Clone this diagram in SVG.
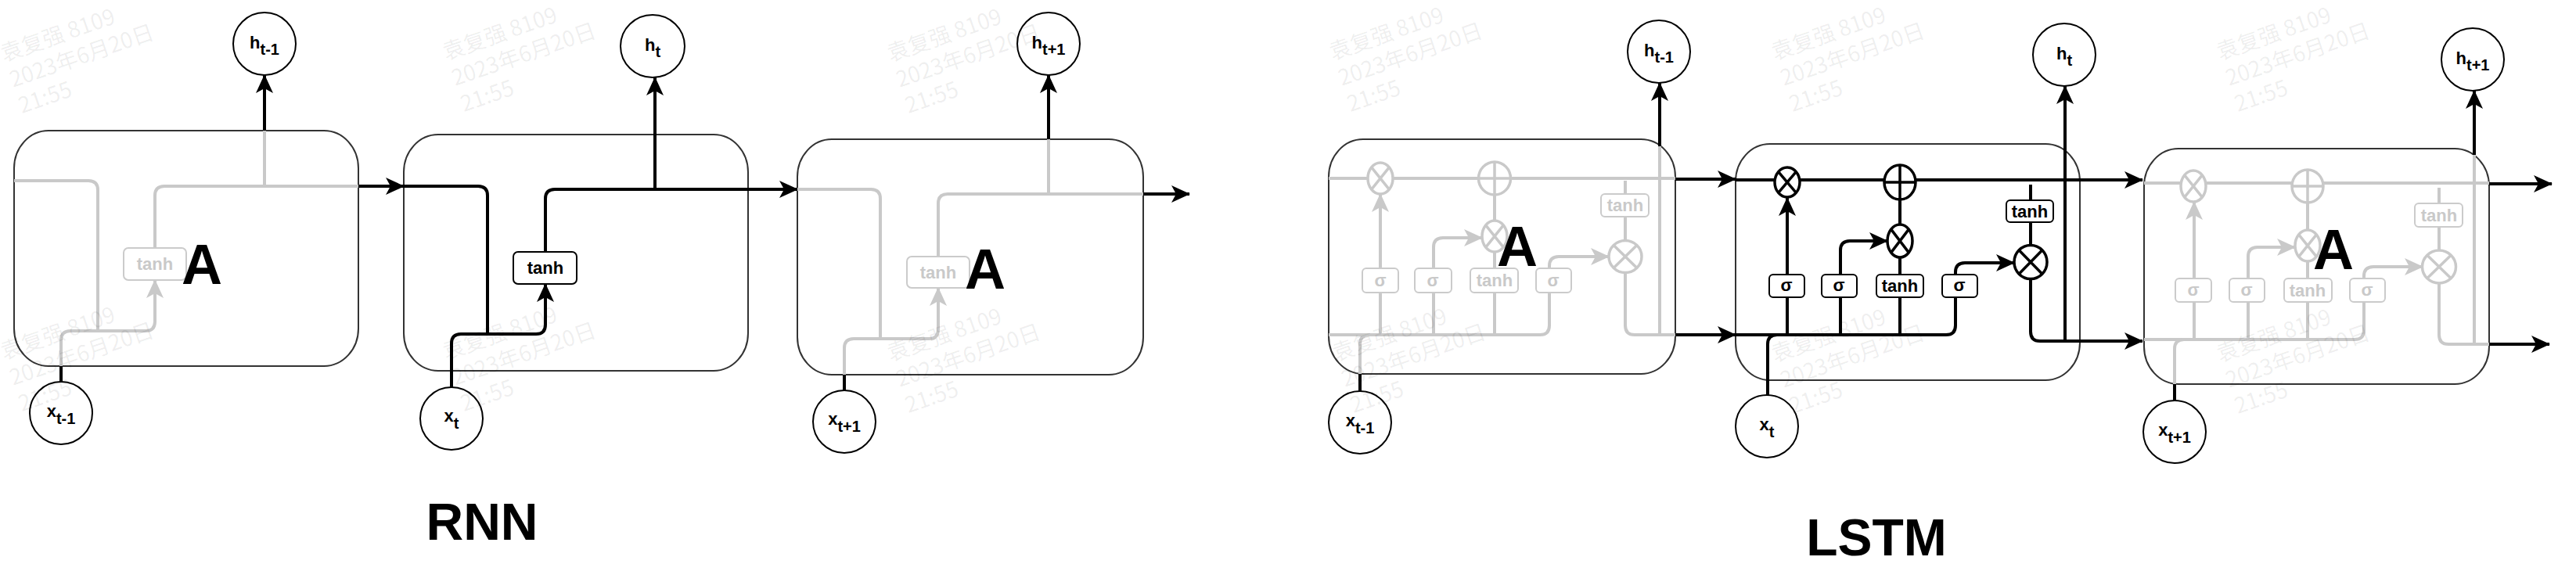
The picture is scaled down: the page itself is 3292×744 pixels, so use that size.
<svg xmlns="http://www.w3.org/2000/svg" xmlns:xlink="http://www.w3.org/1999/xlink" width="3292" height="744" viewBox="0 0 3292 744">
<style>
.cell{fill:#fff;stroke:#333;stroke-width:2}
.k{fill:none;stroke:#000;stroke-width:4}
.g{fill:none;stroke:#c9c9c9;stroke-width:4}
.ka{marker-end:url(#ab)}
.ga{marker-end:url(#ag)}
.box{fill:#fff;stroke:#000;stroke-width:2}
.gbox{fill:#fff;stroke:#cbcbcb;stroke-width:2}
.bt{font-family:"Liberation Sans",Arial,sans-serif;font-weight:bold;font-size:22px;text-anchor:middle;fill:#000}
.gt{font-family:"Liberation Sans",Arial,sans-serif;font-weight:bold;font-size:22px;text-anchor:middle;fill:#c9c9c9}
.node{fill:#fff;stroke:#000;stroke-width:2}
.lbl{font-family:"Liberation Sans",Arial,sans-serif;font-weight:bold;font-size:22px;text-anchor:middle;fill:#000}
.big{font-family:"Liberation Sans",Arial,sans-serif;font-weight:bold;font-size:72px;text-anchor:middle;fill:#000}
.title{font-family:"Liberation Sans",Arial,sans-serif;font-weight:bold;font-size:66px;text-anchor:middle;fill:#000}
.wm{font-family:"Noto Sans CJK SC","Liberation Sans",sans-serif;font-size:28px;fill:#000;fill-opacity:0.075}
</style>
<defs>
<marker id="ab" viewBox="0 0 24 24" markerWidth="24" markerHeight="24" markerUnits="userSpaceOnUse" refX="23" refY="12" orient="auto"><path d="M0,1 L24,12 L0,23 L6,12 Z" fill="#000"/></marker>
<marker id="ag" viewBox="0 0 24 24" markerWidth="24" markerHeight="24" markerUnits="userSpaceOnUse" refX="23" refY="12" orient="auto"><path d="M0,1 L24,12 L0,23 L6,12 Z" fill="#c9c9c9"/></marker>
<g id="mul"><circle r="1" fill="#fff" vector-effect="non-scaling-stroke"/><path d="M-0.707,-0.707L0.707,0.707M-0.707,0.707L0.707,-0.707" fill="none" vector-effect="non-scaling-stroke"/></g>
<g id="add"><circle r="1" fill="#fff" vector-effect="non-scaling-stroke"/><path d="M0,-1V1M-1,0H1" fill="none" vector-effect="non-scaling-stroke"/></g>
</defs>
<rect width="3292" height="744" fill="#fff"/>

<!-- cells -->
<g id="rnn-cell-1"><rect class="cell" x="18" y="167" width="440" height="301" rx="44" ry="48"/></g>
<g id="rnn-cell-2"><rect class="cell" x="516" y="172" width="440" height="302" rx="44" ry="48"/></g>
<g id="rnn-cell-3"><rect class="cell" x="1019" y="178" width="442" height="301" rx="44" ry="48"/></g>
<g id="lstm-cell-1"><rect class="cell" x="1698" y="178" width="443" height="300" rx="44" ry="48"/></g>
<g id="lstm-cell-2"><rect class="cell" x="2218" y="184" width="440" height="302" rx="44" ry="48"/></g>
<g id="lstm-cell-3"><rect class="cell" x="2740" y="190" width="441" height="301" rx="44" ry="48"/></g>

<!-- connectors -->
<g id="connectors">
<!-- RNN cell 1 -->
<path class="g" d="M18,231 H113 Q125,231 125,243 V423"/>
<path class="k" d="M78,488 V468"/>
<path class="g ga" d="M78,468 V435 Q78,423 90,423 H186 Q198,423 198,411 V358"/>
<path class="g" d="M198,317 V250 Q198,238 210,238 H458"/>
<path class="g" d="M338,238 V167"/>
<path class="k ka" d="M338,167 V96"/>
<path class="k ka" d="M458,238 H516"/>
<!-- RNN cell 2 -->
<path class="k" d="M516,238 H611 Q623,238 623,250 V427"/>
<path class="k ka" d="M577,495 V439 Q577,427 589,427 H685 Q697,427 697,415 V363"/>
<path class="k ka" d="M697,322 V254 Q697,242 709,242 H1019"/>
<path class="k ka" d="M837,242 V99"/>
<!-- RNN cell 3 -->
<path class="g" d="M1019,242 H1113 Q1125,242 1125,254 V433"/>
<path class="k" d="M1079,499 V479"/>
<path class="g ga" d="M1079,479 V445 Q1079,433 1091,433 H1187 Q1199,433 1199,421 V368"/>
<path class="g" d="M1199,328 V260 Q1199,248 1211,248 H1461"/>
<path class="k ka" d="M1461,248 H1520"/>
<path class="g" d="M1340,248 V178"/>
<path class="k ka" d="M1340,178 V96"/>

<!-- LSTM cell 1 -->
<path class="g" d="M1698,228 H2141"/>
<path class="k ka" d="M2141,229 H2218"/>
<path class="g" d="M1698,428 H1968 Q1980,428 1980,416 V374"/>
<path class="g ga" d="M1980,343 V340 Q1980,328 1992,328 H2056"/>
<path class="g" d="M1764,428 V374"/>
<path class="g ga" d="M1764,343 V248"/>
<path class="g" d="M1832,428 V374"/>
<path class="g ga" d="M1832,343 V316 Q1832,304 1844,304 H1894"/>
<path class="g" d="M1910,428 V374 M1910,343 V322 M1910,282 V249"/>
<path class="g" d="M2077,231 V248 M2077,277 V308"/>
<path class="g" d="M2077,349 V416 Q2077,428 2089,428 H2141"/>
<path class="k ka" d="M2141,428 H2218"/>
<path class="g" d="M2121,428 V187"/>
<path class="k ka" d="M2121,187 V106"/>
<path class="k" d="M1738,500 V478"/>
<path class="g" d="M1738,478 V440 Q1738,428 1750,428"/>
<!-- LSTM cell 2 -->
<path class="k ka" d="M2218,230 H2738"/>
<path class="k" d="M2218,428 H2487 Q2499,428 2499,416 V380"/>
<path class="k ka" d="M2499,351 V348 Q2499,336 2511,336 H2574"/>
<path class="k" d="M2284,428 V380"/>
<path class="k ka" d="M2284,351 V253"/>
<path class="k" d="M2352,428 V380"/>
<path class="k ka" d="M2352,351 V320 Q2352,308 2364,308 H2412"/>
<path class="k" d="M2428,428 V380 M2428,351 V329 M2428,287 V253"/>
<path class="k" d="M2595,236 V256 M2595,284 V314"/>
<path class="k ka" d="M2595,357 V424 Q2595,436 2607,436 H2738"/>
<path class="k ka" d="M2639,436 V110"/>
<path class="k" d="M2259,505 V440 Q2259,428 2271,428"/>
<!-- LSTM cell 3 -->
<path class="g" d="M2740,234 H3181"/>
<path class="k ka" d="M3181,235 H3261"/>
<path class="g" d="M2740,434 H3009 Q3021,434 3021,422 V386"/>
<path class="g ga" d="M3021,356 V353 Q3021,341 3033,341 H3096"/>
<path class="g" d="M2804,434 V386"/>
<path class="g ga" d="M2804,356 V258"/>
<path class="g" d="M2873,434 V386"/>
<path class="g ga" d="M2873,356 V328 Q2873,316 2885,316 H2933"/>
<path class="g" d="M2949,434 V386 M2949,356 V334 M2949,294 V259"/>
<path class="g" d="M3117,240 V260 M3117,290 V320"/>
<path class="g" d="M3117,362 V428 Q3117,440 3129,440 H3181"/>
<path class="k ka" d="M3181,440 H3258"/>
<path class="g" d="M3162,440 V198"/>
<path class="k ka" d="M3162,198 V116"/>
<path class="k" d="M2779,512 V491"/>
<path class="g" d="M2779,491 V446 Q2779,434 2791,434"/>
</g>

<!-- RNN tanh boxes -->
<g id="rnn-tanh-1"><rect class="gbox" x="158" y="317" width="80" height="41" rx="6"/><text class="gt" x="198" y="345">tanh</text></g>
<g id="rnn-tanh-2"><rect class="box" x="656" y="322" width="81" height="41" rx="6"/><text class="bt" x="697" y="350">tanh</text></g>
<g id="rnn-tanh-3"><rect class="gbox" x="1159" y="328" width="80" height="40" rx="6"/><text class="gt" x="1199" y="356">tanh</text></g>

<!-- LSTM cell 1 gates (grey) -->
<g id="l1-sig-f"><rect class="gbox" x="1741" y="343" width="46" height="31" rx="5"/><text class="gt" x="1764" y="366">σ</text></g>
<g id="l1-sig-i"><rect class="gbox" x="1808" y="343" width="47" height="31" rx="5"/><text class="gt" x="1831" y="366">σ</text></g>
<g id="l1-tanh"><rect class="gbox" x="1879" y="343" width="61" height="31" rx="5"/><text class="gt" x="1910" y="366">tanh</text></g>
<g id="l1-sig-o"><rect class="gbox" x="1963" y="343" width="45" height="31" rx="5"/><text class="gt" x="1985" y="366">σ</text></g>
<g id="l1-tanh-c"><rect class="gbox" x="2046" y="248" width="61" height="29" rx="5"/><text class="gt" x="2077" y="270">tanh</text></g>
<g id="l1-mul-f"><use href="#mul" transform="translate(1764,228) scale(16,20)" stroke="#c9c9c9" stroke-width="3.5"/></g>
<g id="l1-add"><use href="#add" transform="translate(1910,228) scale(20.5,21)" stroke="#c9c9c9" stroke-width="3.5"/></g>
<g id="l1-mul-i"><use href="#mul" transform="translate(1910,302) scale(16,20)" stroke="#c9c9c9" stroke-width="3.5"/></g>
<g id="l1-mul-o"><use href="#mul" transform="translate(2077,328) scale(21,20.5)" stroke="#c9c9c9" stroke-width="3.5"/></g>

<!-- LSTM cell 2 gates (black) -->
<g id="l2-sig-f"><rect class="box" x="2261" y="351" width="45" height="29" rx="5"/><text class="bt" x="2283" y="372">σ</text></g>
<g id="l2-sig-i"><rect class="box" x="2328" y="351" width="45" height="29" rx="5"/><text class="bt" x="2350" y="372">σ</text></g>
<g id="l2-tanh"><rect class="box" x="2398" y="351" width="60" height="29" rx="5"/><text class="bt" x="2428" y="373">tanh</text></g>
<g id="l2-sig-o"><rect class="box" x="2482" y="351" width="45" height="29" rx="5"/><text class="bt" x="2504" y="372">σ</text></g>
<g id="l2-tanh-c"><rect class="box" x="2564" y="256" width="60" height="28" rx="5"/><text class="bt" x="2594" y="278">tanh</text></g>
<g id="l2-mul-f"><use href="#mul" transform="translate(2284,233) scale(16,19)" stroke="#000" stroke-width="3.5"/></g>
<g id="l2-add"><use href="#add" transform="translate(2428,233) scale(20,22)" stroke="#000" stroke-width="3.5"/></g>
<g id="l2-mul-i"><use href="#mul" transform="translate(2428,308) scale(16,21)" stroke="#000" stroke-width="3.5"/></g>
<g id="l2-mul-o"><use href="#mul" transform="translate(2595,335) scale(21,21.5)" stroke="#000" stroke-width="3.5"/></g>

<!-- LSTM cell 3 gates (grey) -->
<g id="l3-sig-f"><rect class="gbox" x="2780" y="356" width="46" height="30" rx="5"/><text class="gt" x="2803" y="378">σ</text></g>
<g id="l3-sig-i"><rect class="gbox" x="2849" y="356" width="45" height="30" rx="5"/><text class="gt" x="2871" y="378">σ</text></g>
<g id="l3-tanh"><rect class="gbox" x="2919" y="356" width="61" height="30" rx="5"/><text class="gt" x="2949" y="379">tanh</text></g>
<g id="l3-sig-o"><rect class="gbox" x="3003" y="356" width="45" height="30" rx="5"/><text class="gt" x="3025" y="378">σ</text></g>
<g id="l3-tanh-c"><rect class="gbox" x="3086" y="260" width="61" height="30" rx="5"/><text class="gt" x="3117" y="283">tanh</text></g>
<g id="l3-mul-f"><use href="#mul" transform="translate(2803,238) scale(16,20)" stroke="#c9c9c9" stroke-width="3.5"/></g>
<g id="l3-add"><use href="#add" transform="translate(2949,238) scale(20,21)" stroke="#c9c9c9" stroke-width="3.5"/></g>
<g id="l3-mul-i"><use href="#mul" transform="translate(2949,314) scale(16,20)" stroke="#c9c9c9" stroke-width="3.5"/></g>
<g id="l3-mul-o"><use href="#mul" transform="translate(3117,341) scale(21.5,21)" stroke="#c9c9c9" stroke-width="3.5"/></g>

<!-- cell labels A -->
<g id="rnn-A-1"><text class="big" x="258" y="363">A</text></g>
<g id="rnn-A-3"><text class="big" x="1259" y="369">A</text></g>
<g id="lstm-A-1"><text class="big" x="1939" y="340">A</text></g>
<g id="lstm-A-3"><text class="big" x="2982" y="344">A</text></g>

<!-- RNN io nodes -->
<g id="rnn-h-prev"><ellipse class="node" cx="338" cy="56" rx="40" ry="40"/><text class="lbl" x="338" y="62">h<tspan dy="8" font-size="20">t-1</tspan></text></g>
<g id="rnn-h-t"><ellipse class="node" cx="834" cy="59" rx="41" ry="40"/><text class="lbl" x="834" y="65">h<tspan dy="8" font-size="20">t</tspan></text></g>
<g id="rnn-h-next"><ellipse class="node" cx="1340" cy="56" rx="40" ry="40"/><text class="lbl" x="1340" y="62">h<tspan dy="8" font-size="20">t+1</tspan></text></g>
<g id="rnn-x-prev"><ellipse class="node" cx="78" cy="528" rx="40" ry="40"/><text class="lbl" x="78" y="533">x<tspan dy="9" font-size="20">t-1</tspan></text></g>
<g id="rnn-x-t"><ellipse class="node" cx="577" cy="535" rx="40" ry="40"/><text class="lbl" x="577" y="539">x<tspan dy="9" font-size="20">t</tspan></text></g>
<g id="rnn-x-next"><ellipse class="node" cx="1079" cy="539" rx="40" ry="40"/><text class="lbl" x="1079" y="543">x<tspan dy="9" font-size="20">t+1</tspan></text></g>

<!-- LSTM io nodes -->
<g id="lstm-h-prev"><ellipse class="node" cx="2120" cy="66" rx="40" ry="40"/><text class="lbl" x="2120" y="72">h<tspan dy="8" font-size="20">t-1</tspan></text></g>
<g id="lstm-h-t"><ellipse class="node" cx="2638" cy="70" rx="40" ry="40"/><text class="lbl" x="2638" y="76">h<tspan dy="8" font-size="20">t</tspan></text></g>
<g id="lstm-h-next"><ellipse class="node" cx="3160" cy="76" rx="40" ry="40"/><text class="lbl" x="3160" y="82">h<tspan dy="8" font-size="20">t+1</tspan></text></g>
<g id="lstm-x-prev"><ellipse class="node" cx="1738" cy="540" rx="40" ry="40"/><text class="lbl" x="1738" y="545">x<tspan dy="9" font-size="20">t-1</tspan></text></g>
<g id="lstm-x-t"><ellipse class="node" cx="2258" cy="545" rx="40" ry="40"/><text class="lbl" x="2258" y="550">x<tspan dy="9" font-size="20">t</tspan></text></g>
<g id="lstm-x-next"><ellipse class="node" cx="2779" cy="552" rx="40" ry="40"/><text class="lbl" x="2779" y="557">x<tspan dy="9" font-size="20">t+1</tspan></text></g>

<!-- titles -->
<g id="title-rnn"><text class="title" x="616" y="690">RNN</text></g>
<g id="title-lstm"><text class="title" x="2398" y="710">LSTM</text></g>

<!-- watermarks -->
<g id="watermarks" class="wm">
<text transform="translate(5,79) rotate(-19)"><tspan x="0" y="0">袁复强 8109</tspan><tspan x="0" y="35">2023年6月20日</tspan><tspan x="0" y="70">21:55</tspan></text>
<text transform="translate(5,460) rotate(-19)"><tspan x="0" y="0">袁复强 8109</tspan><tspan x="0" y="35">2023年6月20日</tspan><tspan x="0" y="70">21:55</tspan></text>
<text transform="translate(570,77) rotate(-19)"><tspan x="0" y="0">袁复强 8109</tspan><tspan x="0" y="35">2023年6月20日</tspan><tspan x="0" y="70">21:55</tspan></text>
<text transform="translate(570,460) rotate(-19)"><tspan x="0" y="0">袁复强 8109</tspan><tspan x="0" y="35">2023年6月20日</tspan><tspan x="0" y="70">21:55</tspan></text>
<text transform="translate(1138,79) rotate(-19)"><tspan x="0" y="0">袁复强 8109</tspan><tspan x="0" y="35">2023年6月20日</tspan><tspan x="0" y="70">21:55</tspan></text>
<text transform="translate(1138,462) rotate(-19)"><tspan x="0" y="0">袁复强 8109</tspan><tspan x="0" y="35">2023年6月20日</tspan><tspan x="0" y="70">21:55</tspan></text>
<text transform="translate(1703,77) rotate(-19)"><tspan x="0" y="0">袁复强 8109</tspan><tspan x="0" y="35">2023年6月20日</tspan><tspan x="0" y="70">21:55</tspan></text>
<text transform="translate(1707,462) rotate(-19)"><tspan x="0" y="0">袁复强 8109</tspan><tspan x="0" y="35">2023年6月20日</tspan><tspan x="0" y="70">21:55</tspan></text>
<text transform="translate(2268,77) rotate(-19)"><tspan x="0" y="0">袁复强 8109</tspan><tspan x="0" y="35">2023年6月20日</tspan><tspan x="0" y="70">21:55</tspan></text>
<text transform="translate(2268,463) rotate(-19)"><tspan x="0" y="0">袁复强 8109</tspan><tspan x="0" y="35">2023年6月20日</tspan><tspan x="0" y="70">21:55</tspan></text>
<text transform="translate(2837,77) rotate(-19)"><tspan x="0" y="0">袁复强 8109</tspan><tspan x="0" y="35">2023年6月20日</tspan><tspan x="0" y="70">21:55</tspan></text>
<text transform="translate(2837,463) rotate(-19)"><tspan x="0" y="0">袁复强 8109</tspan><tspan x="0" y="35">2023年6月20日</tspan><tspan x="0" y="70">21:55</tspan></text>
</g>
</svg>
